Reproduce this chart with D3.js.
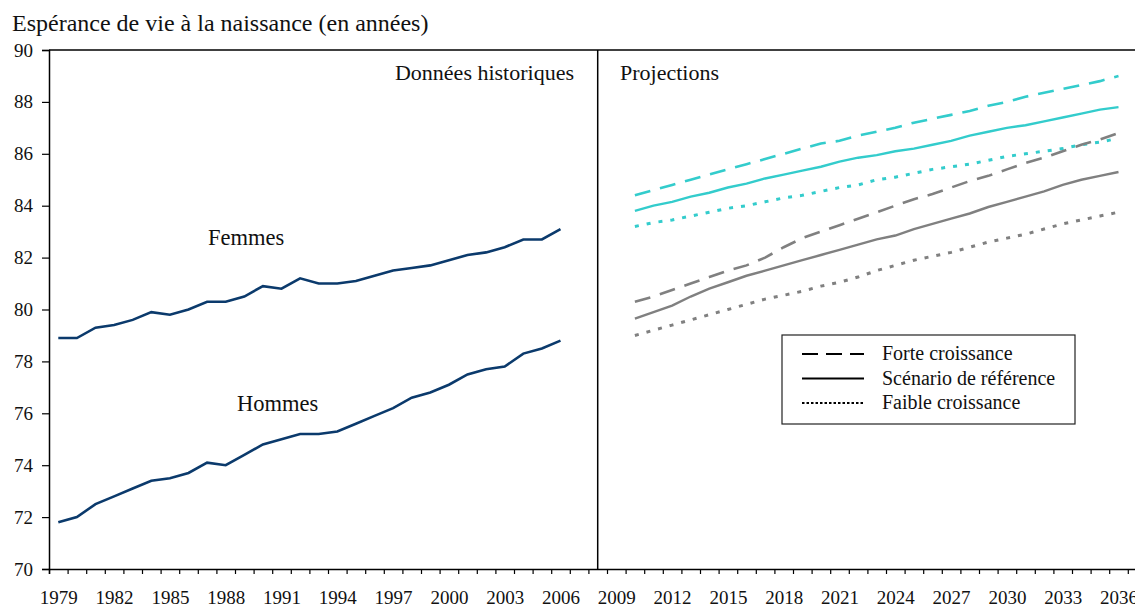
<!DOCTYPE html>
<html>
<head>
<meta charset="utf-8">
<script src="https://cdn.jsdelivr.net/npm/d3@7"></script>
<style>
  body { margin: 0; background: #fff; }
  svg { display: block; font-family: "Liberation Serif", "Times New Roman", serif; }
</style>
</head>
<body>
<div id="chart"></div>
<script>
// Historical data (1979-2006)
let histYears = [1979, 1980, 1981, 1982, 1983, 1984, 1985, 1986, 1987, 1988, 1989, 1990, 1991, 1992,
                 1993, 1994, 1995, 1996, 1997, 1998, 1999, 2000, 2001, 2002, 2003, 2004, 2005, 2006];
let femmes = [78.9, 78.9, 79.3, 79.4, 79.6, 79.9, 79.8, 80.0, 80.3, 80.3, 80.5, 80.9, 80.8, 81.2,
              81.0, 81.0, 81.1, 81.3, 81.5, 81.6, 81.7, 81.9, 82.1, 82.2, 82.4, 82.7, 82.7, 83.1];
let hommes = [71.8, 72.0, 72.5, 72.8, 73.1, 73.4, 73.5, 73.7, 74.1, 74.0, 74.4, 74.8, 75.0, 75.2,
              75.2, 75.3, 75.6, 75.9, 76.2, 76.6, 76.8, 77.1, 77.5, 77.7, 77.8, 78.3, 78.5, 78.8];

// Projections (2010-2036)
let projYears = [2010, 2011, 2012, 2013, 2014, 2015, 2016, 2017, 2018, 2019, 2020, 2021, 2022, 2023,
                 2024, 2025, 2026, 2027, 2028, 2029, 2030, 2031, 2032, 2033, 2034, 2035, 2036];
let femmesForte = [84.4, 84.6, 84.8, 85.0, 85.2, 85.4, 85.6, 85.8, 86.0, 86.2, 86.4, 86.5, 86.7, 86.85,
                   87.0, 87.2, 87.35, 87.5, 87.65, 87.85, 88.0, 88.2, 88.35, 88.5, 88.65, 88.8, 89.0];
let femmesRef = [83.8, 84.0, 84.15, 84.35, 84.5, 84.7, 84.85, 85.05, 85.2, 85.35, 85.5, 85.7, 85.85, 85.95,
                 86.1, 86.2, 86.35, 86.5, 86.7, 86.85, 87.0, 87.1, 87.25, 87.4, 87.55, 87.7, 87.8];
let femmesFaible = [83.2, 83.35, 83.45, 83.6, 83.75, 83.9, 84.0, 84.15, 84.3, 84.4, 84.55, 84.7, 84.8, 85.0,
                    85.1, 85.25, 85.4, 85.5, 85.6, 85.75, 85.9, 86.0, 86.1, 86.2, 86.35, 86.45, 86.6];
let hommesForte = [80.3, 80.5, 80.75, 81.0, 81.25, 81.5, 81.7, 82.0, 82.4, 82.75, 83.0, 83.25, 83.5, 83.75,
                   84.0, 84.25, 84.45, 84.7, 84.95, 85.15, 85.4, 85.65, 85.85, 86.1, 86.35, 86.55, 86.8];
let hommesRef = [79.65, 79.9, 80.15, 80.5, 80.8, 81.05, 81.3, 81.5, 81.7, 81.9, 82.1, 82.3, 82.5, 82.7,
                 82.85, 83.1, 83.3, 83.5, 83.7, 83.95, 84.15, 84.35, 84.55, 84.8, 85.0, 85.15, 85.3];
let hommesFaible = [79.0, 79.2, 79.4, 79.6, 79.8, 80.0, 80.2, 80.4, 80.55, 80.7, 80.9, 81.05, 81.25, 81.5,
                    81.7, 81.9, 82.05, 82.2, 82.4, 82.6, 82.75, 82.9, 83.1, 83.3, 83.45, 83.6, 83.75];

// Axis labels
let xLabelYears = [1979, 1982, 1985, 1988, 1991, 1994, 1997, 2000, 2003, 2006,
                   2009, 2012, 2015, 2018, 2021, 2024, 2027, 2030, 2033, 2036];
let yTicks = [70, 72, 74, 76, 78, 80, 82, 84, 86, 88, 90];

let legendItems = [
    {text: "Forte croissance", dash: "16,8"},
    {text: "Scénario de référence", dash: null},
    {text: "Faible croissance", dash: "2.5,2"}
];

let width = 1135;
let height = 608;
let plotLeft = 49;
let plotTop = 50;
let plotBottom = 569;
let yearWidth = 18.6;
let firstYear = 1979;
let lastYear = 2038;

let navy = "#0b3a6c";
let cyan = "#33cccc";
let grey = "#808080";

let svg = d3.select("#chart")
            .append("svg")
            .attr("width", width)
            .attr("height", height);

// continuous year scale, each year is a category of width yearWidth
let xScale = d3.scaleLinear()
               .domain([firstYear - 0.5, lastYear + 0.5])
               .range([plotLeft, plotLeft + (lastYear - firstYear + 1) * yearWidth]);

let yScale = d3.scaleLinear()
               .domain([70, 90])
               .range([plotBottom, plotTop]);

// plot frame: top line and divider
svg.append("line")
   .attr("x1", plotLeft).attr("x2", xScale.range()[1])
   .attr("y1", yScale(90)).attr("y2", yScale(90))
   .attr("stroke", "#000").attr("stroke-width", 1.5);

svg.append("line")
   .attr("x1", xScale(2008)).attr("x2", xScale(2008))
   .attr("y1", yScale(90)).attr("y2", yScale(70))
   .attr("stroke", "#000").attr("stroke-width", 1.5);

// y axis
let yAxis = d3.axisLeft(yScale)
              .tickValues(yTicks)
              .tickSize(7)
              .tickPadding(9)
              .tickFormat(d3.format("d"));

let yG = svg.append("g")
            .attr("transform", "translate(" + plotLeft + ",0)")
            .call(yAxis);

// x axis: tick marks between years, labels centred every 3 years
let boundaries = d3.range(firstYear - 0.5, lastYear + 1, 1);
let xAxisTicks = d3.axisBottom(xScale)
                   .tickValues(boundaries)
                   .tickSize(5)
                   .tickFormat("");

let xG = svg.append("g")
            .attr("transform", "translate(0," + plotBottom + ")")
            .call(xAxisTicks);

let xAxisLabels = d3.axisBottom(xScale)
                    .tickValues(xLabelYears)
                    .tickSize(0)
                    .tickPadding(22)
                    .tickFormat(d3.format("d"));

let xLab = svg.append("g")
              .attr("transform", "translate(0," + plotBottom + ")")
              .call(xAxisLabels);
xLab.select(".domain").remove();

[yG, xG, xLab].forEach(g => {
    g.selectAll(".domain").attr("stroke", "#000").attr("stroke-width", 1.5);
    g.selectAll(".tick line").attr("stroke", "#000").attr("stroke-width", 1.2);
    g.selectAll("text")
     .attr("fill", "#111")
     .style("font-family", "Liberation Serif, serif")
     .style("font-size", "19px");
});

let line = d3.line()
             .x(d => xScale(d[0]))
             .y(d => yScale(d[1]));

function drawSeries(years, values, color, dash, w) {
    svg.append("path")
       .datum(years.map((y, i) => [y, values[i]]))
       .attr("fill", "none")
       .attr("stroke", color)
       .attr("stroke-width", w)
       .attr("stroke-dasharray", dash)
       .attr("d", line);
}

drawSeries(histYears, femmes, navy, null, 2.6);
drawSeries(histYears, hommes, navy, null, 2.6);

drawSeries(projYears, femmesForte, cyan, "16,10", 2.6);
drawSeries(projYears, femmesRef, cyan, null, 2.4);
drawSeries(projYears, femmesFaible, cyan, "4,8", 3);
drawSeries(projYears, hommesForte, grey, "16,10", 2.6);
drawSeries(projYears, hommesRef, grey, null, 2.4);
drawSeries(projYears, hommesFaible, grey, "4,8", 3);

// titles and labels
let texts = [
    {t: "Espérance de vie à la naissance (en années)", x: 12, y: 31, size: 24, anchor: "start"},
    {t: "Données historiques", x: 574, y: 80, size: 22, anchor: "end"},
    {t: "Projections", x: 620, y: 80, size: 22, anchor: "start"},
    {t: "Femmes", x: 208, y: 245, size: 22.5, anchor: "start"},
    {t: "Hommes", x: 237, y: 411, size: 22.5, anchor: "start"}
];

svg.selectAll("text.label")
   .data(texts)
   .enter()
   .append("text")
   .attr("class", "label")
   .attr("x", d => d.x)
   .attr("y", d => d.y)
   .attr("text-anchor", d => d.anchor)
   .style("font-size", d => d.size + "px")
   .attr("fill", "#111")
   .text(d => d.t);

// legend
let legend = svg.append("g")
                .attr("transform", "translate(782,335)");

legend.append("rect")
      .attr("width", 293)
      .attr("height", 89)
      .attr("fill", "#fff")
      .attr("stroke", "#222")
      .attr("stroke-width", 1.2);

legend.selectAll("line.key")
      .data(legendItems)
      .enter()
      .append("line")
      .attr("class", "key")
      .attr("x1", 20).attr("x2", 82)
      .attr("y1", (d, i) => 19 + i * 24.5)
      .attr("y2", (d, i) => 19 + i * 24.5)
      .attr("stroke", "#000")
      .attr("stroke-width", 2.2)
      .attr("stroke-dasharray", d => d.dash);

legend.selectAll("text.key")
      .data(legendItems)
      .enter()
      .append("text")
      .attr("class", "key")
      .attr("x", 100)
      .attr("y", (d, i) => 25 + i * 24.5)
      .style("font-size", "20px")
      .attr("fill", "#111")
      .text(d => d.text);
</script>
</body>
</html>
